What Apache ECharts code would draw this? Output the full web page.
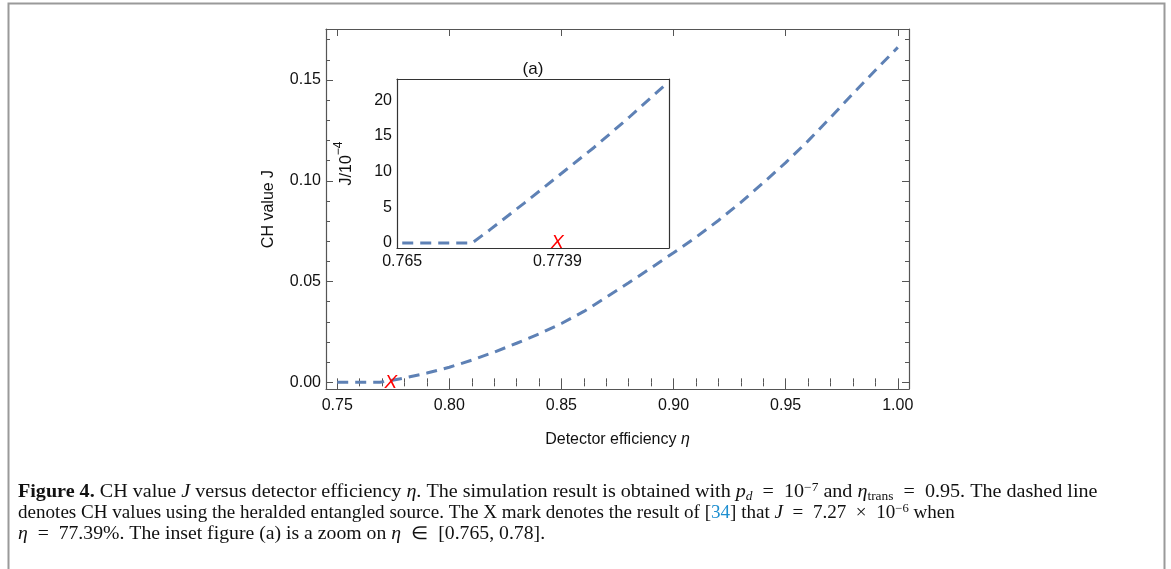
<!DOCTYPE html>
<html>
<head>
<meta charset="utf-8">
<script src="https://cdn.jsdelivr.net/npm/echarts@6/dist/echarts.min.js"></script>
<style>
html,body{margin:0;padding:0;background:#fff;}
#c{width:1171px;height:569px;}
</style>
</head>
<body>
<div id="c"></div>
<script>
// ---- data ----
const mainEta = [0.75, 0.76, 0.769, 0.7739, 0.78, 0.79, 0.80, 0.81, 0.82, 0.83, 0.84, 0.85, 0.86, 0.87, 0.88, 0.89, 0.90, 0.91, 0.92, 0.93, 0.94, 0.95, 0.96, 0.97, 0.98, 0.99, 1.00];
const mainJ   = [0, 0, 0, 0.00093, 0.0022, 0.0046, 0.0075, 0.0110, 0.0150, 0.0194, 0.0240, 0.0292, 0.0352, 0.0422, 0.0494, 0.0568, 0.0643, 0.0720, 0.0803, 0.0893, 0.0990, 0.1090, 0.1198, 0.1314, 0.1432, 0.1548, 0.1662];
const insetEta = [0.765, 0.769, 0.770, 0.772, 0.774, 0.776, 0.778, 0.780];
const insetJ   = [0, 0, 1.8, 5.6, 9.5, 13.4, 17.6, 22.0]; // units of 1e-4
const markEta = [0.7739];
const markJ = [7.27e-6];
const markJInset = [0.0727]; // 7.27e-6 in units of 1e-4

const xTicks = [0.75, 0.80, 0.85, 0.90, 0.95, 1.00];
const xTickLabels = ['0.75', '0.80', '0.85', '0.90', '0.95', '1.00'];
const yTicks = [0.00, 0.05, 0.10, 0.15];
const yTickLabels = ['0.00', '0.05', '0.10', '0.15'];
const insetXTicks = [0.765, 0.7739];
const insetXTickLabels = ['0.765', '0.7739'];
const insetYTicks = [0, 5, 10, 15, 20];
const insetYTickLabels = ['0', '5', '10', '15', '20'];

// minor tick positions (every 0.01)
const xMinor = [], yMinor = [];
for (let i = 0; i <= 25; i++) xMinor.push(+(0.75 + i * 0.01).toFixed(2));
for (let i = 0; i <= 17; i++) yMinor.push(+(i * 0.01).toFixed(2));

const FONT = 'Liberation Sans';
const AXC = '#555';
const LINEC = '#5e81b5';

function lbl(vals, labels) {
  return function (v) {
    for (let i = 0; i < vals.length; i++) if (Math.abs(vals[i] - v) < 1e-9) return labels[i];
    return '';
  };
}

function mainAxis(dim, pos, min, max, major, labels, minor, withLabels, name) {
  const a = [];
  a.push({
    type: 'value', gridIndex: 0, position: pos, min: min, max: max,
    axisLine: { show: true, onZero: false, lineStyle: { color: AXC, width: 1.2 } },
    axisTick: { show: true, inside: true, length: 7, customValues: major, lineStyle: { color: AXC, width: 1 } },
    axisLabel: {
      show: withLabels, customValues: major, formatter: lbl(major, labels),
      fontFamily: FONT, fontSize: 16, color: '#111', margin: dim === 'x' ? 9 : 5
    },
    splitLine: { show: false },
    name: name || '', nameLocation: 'middle'
  });
  a.push({
    type: 'value', gridIndex: 0, position: pos, min: min, max: max,
    axisLine: { show: false },
    axisTick: { show: true, inside: true, length: 4, customValues: minor, lineStyle: { color: AXC, width: 1 } },
    axisLabel: { show: false, customValues: minor },
    splitLine: { show: false }
  });
  return a;
}

const xMainBottom = mainAxis('x', 'bottom', 0.745, 1.005, xTicks, xTickLabels, xMinor, true, '{a|Detector efficiency }{b|η}');
xMainBottom[0].nameGap = 43;
xMainBottom[0].nameTextStyle = { rich: { a: { fontFamily: FONT, fontSize: 16, color: '#111' }, b: { fontFamily: FONT, fontSize: 16, fontStyle: 'italic', color: '#111' } } };
const xMainTop = mainAxis('x', 'top', 0.745, 1.005, xTicks, xTickLabels, xMinor, false);
const yMainLeft = mainAxis('y', 'left', -0.0033, 0.1753, yTicks, yTickLabels, yMinor, true, 'CH value J');
yMainLeft[0].nameGap = 49;
yMainLeft[0].nameTextStyle = { fontFamily: FONT, fontSize: 16, color: '#111' };
const yMainRight = mainAxis('y', 'right', -0.0033, 0.1753, yTicks, yTickLabels, yMinor, false);

const INC = '#333';
const insetX = [
  {
    type: 'value', gridIndex: 1, position: 'bottom', min: 0.7647, max: 0.7803,
    axisLine: { show: true, onZero: false, lineStyle: { color: INC, width: 1.2 } },
    axisTick: { show: false },
    axisLabel: { show: true, customValues: insetXTicks, formatter: lbl(insetXTicks, insetXTickLabels), fontFamily: FONT, fontSize: 16, color: '#111', margin: 6 },
    splitLine: { show: false }
  },
  {
    type: 'value', gridIndex: 1, position: 'top', min: 0.7647, max: 0.7803,
    axisLine: { show: true, onZero: false, lineStyle: { color: INC, width: 1.2 } },
    axisTick: { show: false }, axisLabel: { show: false }, splitLine: { show: false },
    name: '(a)', nameLocation: 'middle', nameGap: 1,
    nameTextStyle: { fontFamily: FONT, fontSize: 17, color: '#111' }
  }
];
const insetY = [
  {
    type: 'value', gridIndex: 1, position: 'left', min: -0.7, max: 23.0,
    axisLine: { show: true, onZero: false, lineStyle: { color: INC, width: 1.2 } },
    axisTick: { show: false },
    axisLabel: { show: true, customValues: insetYTicks, formatter: lbl(insetYTicks, insetYTickLabels), fontFamily: FONT, fontSize: 16, color: '#111', margin: 5 },
    splitLine: { show: false },
    name: '{a|J/10}{s|−4}', nameLocation: 'middle', nameGap: 42,
    nameTextStyle: { rich: { a: { fontFamily: FONT, fontSize: 16, color: '#111', lineHeight: 22, verticalAlign: 'bottom' }, s: { fontFamily: FONT, fontSize: 12, color: '#111', lineHeight: 22, verticalAlign: 'top' } } }
  },
  {
    type: 'value', gridIndex: 1, position: 'right', min: -0.7, max: 23.0,
    axisLine: { show: true, onZero: false, lineStyle: { color: INC, width: 1.2 } },
    axisTick: { show: false }, axisLabel: { show: false }, splitLine: { show: false }
  }
];

const xAxes = [].concat(xMainBottom, xMainTop, insetX);   // 0..3 main, 4..5 inset
const yAxes = [].concat(yMainLeft, yMainRight, insetY);

const lineStyle = { color: LINEC, width: 3, type: [11, 7], cap: 'butt' };
const xLabel = { show: true, formatter: 'X', position: 'inside', color: '#ff0000', fontFamily: FONT, fontSize: 19, fontStyle: 'italic', opacity: 1 };

// caption
const capFont = 'Liberation Serif';
const CS = 18;
const capRich = {
  n: { fontFamily: capFont, fontSize: CS, fill: '#111', lineHeight: 21 },
  b: { fontFamily: capFont, fontSize: CS, fontWeight: 'bold', fill: '#111', lineHeight: 21 },
  i: { fontFamily: capFont, fontSize: CS, fontStyle: 'italic', fill: '#111', lineHeight: 21 },
  sup: { fontFamily: capFont, fontSize: 12, fill: '#111', lineHeight: 11, verticalAlign: 'top' },
  sub: { fontFamily: capFont, fontSize: 12, fill: '#111', lineHeight: 8, verticalAlign: 'bottom' },
  si: { fontFamily: capFont, fontSize: 12, fontStyle: 'italic', fill: '#111', lineHeight: 8, verticalAlign: 'bottom' },
  l: { fontFamily: capFont, fontSize: CS, fill: '#1f8fd0', lineHeight: 21 }
};
const capLines = [
  '{b|Figure 4.}{n| CH value }{i|J}{n| versus detector efficiency }{i|η}{n|. The simulation result is obtained with }{i|p}{si|d}{n|  =  10}{sup|−7}{n| and }{i|η}{sub|trans}{n|  =  0.95. The dashed line}',
  '{n|denotes CH values using the heralded entangled source. The X mark denotes the result of [}{l|34}{n|] that }{i|J}{n|  =  7.27  ×  10}{sup|−6}{n| when}',
  '{i|η}{n|  =  77.39%. The inset figure (a) is a zoom on }{i|η}{n|  ∈  [0.765, 0.78].}'
];
const capScale = [1.117, 1.06, 1.096];

const chart = echarts.init(document.getElementById('c'), null, { renderer: 'canvas' });
chart.setOption({
  animation: false,
  backgroundColor: '#fff',
  grid: [
    { left: 326, top: 29, width: 583, height: 360, outerBoundsMode: 'none', containLabel: false },
    { left: 397, top: 79, width: 272, height: 169, outerBoundsMode: 'none', containLabel: false, show: true, backgroundColor: '#fff', borderWidth: 0 }
  ],
  xAxis: xAxes,
  yAxis: yAxes,
  series: [
    { type: 'line', xAxisIndex: 0, yAxisIndex: 0, data: mainEta.map((e, i) => [e, mainJ[i]]), showSymbol: false, symbol: 'none', lineStyle: lineStyle, z: 3 },
    { type: 'scatter', xAxisIndex: 0, yAxisIndex: 0, data: markEta.map((e, i) => [e, markJ[i]]), symbolSize: 2, itemStyle: { color: 'rgba(0,0,0,0)' }, label: xLabel, z: 5 },
    { type: 'line', xAxisIndex: 4, yAxisIndex: 4, data: insetEta.map((e, i) => [e, insetJ[i]]), showSymbol: false, symbol: 'none', lineStyle: lineStyle, z: 3 },
    { type: 'scatter', xAxisIndex: 4, yAxisIndex: 4, data: markEta.map((e, i) => [e, markJInset[i]]), symbolSize: 2, itemStyle: { color: 'rgba(0,0,0,0)' }, label: xLabel, z: 5 }
  ],
  graphic: [
    { type: 'rect', shape: { x: 8.5, y: 3.5, width: 1156, height: 620 }, style: { fill: 'none', stroke: '#9a9a9a', lineWidth: 2 }, silent: true },
    {
      type: 'group', x: 18, y: 482, children: capLines.map((t, k) => ({
        type: 'text', x: 0, y: k * 21, scaleX: capScale[k],
        style: { text: t, rich: capRich, fill: '#111', font: CS + 'px ' + capFont }
      }))
    }
  ]
});
</script>
</body>
</html>
